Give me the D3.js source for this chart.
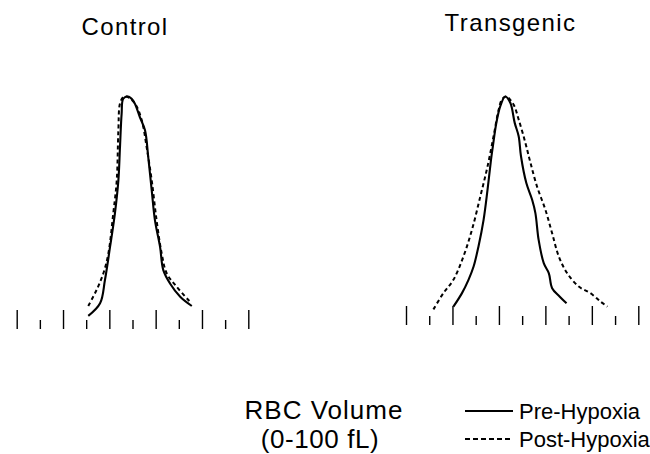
<!DOCTYPE html>
<html>
<head>
<meta charset="utf-8">
<script src="https://cdn.jsdelivr.net/npm/d3@7"></script>
<style>
  body { margin: 0; background: #fff; }
  svg { display: block; }
  text { font-family: "Liberation Sans", Arial, Helvetica, sans-serif; fill: #000; }
</style>
</head>
<body>
<svg id="chart" width="650" height="454"></svg>
<script>
// RBC volume (fL) vs relative cell count (peak = 100)
var controlPre = [
  [30.9, 2.7], [36.0, 8.3], [38.1, 18.6], [40.3, 33.3], [42.4, 48.1], [43.9, 62.8],
  [44.6, 77.6], [45.3, 92.3], [46.0, 99.0], [47.9, 100], [50.3, 98.2], [53.2, 90.8],
  [55.4, 85.0], [56.8, 73.1], [58.3, 58.4], [59.7, 45.1], [61.9, 33.3], [63.3, 23.0],
  [66.2, 17.1], [70.6, 11.2], [75.6, 7.1]
]
var controlPost = [
  [30.9, 7.1], [34.5, 14.2], [37.4, 21.5], [39.6, 30.5], [41.7, 48.2], [43.2, 62.8],
  [43.9, 85.0], [44.6, 96.9], [46.0, 99.7], [47.5, 100], [51.1, 96.8], [54.0, 89.4],
  [56.1, 77.6], [58.3, 62.8], [60.4, 45.1], [62.6, 30.4], [64.8, 21.5], [69.1, 15.6],
  [74.8, 9.0]
]
var transPre = [
  [20.4, 6.8], [24.1, 12.8], [26.9, 18.7], [29.1, 24.6], [31.2, 33.5], [33.4, 45.3],
  [35.1, 58.7], [36.6, 72.0], [37.4, 77.9], [38.9, 88.3], [40.6, 95.7], [42.7, 100],
  [44.9, 97.2], [46.8, 88.3], [48.5, 82.4], [49.5, 73.5], [51.8, 61.6], [54.3, 54.2],
  [55.7, 48.3], [57.1, 36.4], [59.3, 26.1], [61.5, 21.6], [62.9, 15.0], [66.2, 11.2],
  [69.1, 8.3]
]
var transPost = [
  [11.8, 5.6], [16.1, 12.8], [20.4, 18.7], [24.7, 29.0], [28.4, 40.9], [32.0, 55.7],
  [35.1, 69.0], [37.7, 82.4], [39.9, 94.2], [41.3, 98.7], [43.2, 100], [46.3, 96.4],
  [48.5, 89.8], [51.4, 79.4], [53.6, 70.5], [56.4, 60.1], [60.0, 49.8], [62.9, 39.4],
  [65.8, 29.0], [69.4, 21.6], [74.4, 15.7], [79.4, 12.8], [83.8, 9.0], [86.7, 6.8]
]
var majorTicks = [0, 20, 40, 60, 80, 100]
var minorTicks = [10, 30, 50, 70, 90]
var panelTitles = ["Control", "Transgenic"]
var legendLabels = ["Pre-Hypoxia", "Post-Hypoxia"]
var axisTitle = ["RBC Volume", "(0-100 fL)"]

var svg = d3.select("#chart")

var yScale = d3.scaleLinear()
    .domain([0, 100])
    .range([322, 96.5])

var panels = [
  {title: panelTitles[0], pre: controlPre, post: controlPost, range: [16.7, 248.3], tickY: 329, titleX: 125, titleY: 35},
  {title: panelTitles[1], pre: transPre, post: transPost, range: [406, 638.3], tickY: 325, titleX: 510.5, titleY: 31}
]

var drawPanel = function(p)
{
    var xScale = d3.scaleLinear()
        .domain([0, 100])
        .range(p.range)

    var g = svg.append("g")

    // long and short ticks, no axis line
    g.append("g")
        .attr("transform", "translate(0," + p.tickY + ")")
        .call(d3.axisTop(xScale).tickValues(majorTicks).tickSize(19).tickFormat(""))
    g.append("g")
        .attr("transform", "translate(0," + p.tickY + ")")
        .call(d3.axisTop(xScale).tickValues(minorTicks).tickSize(9).tickFormat(""))
    g.selectAll(".domain").remove()
    g.selectAll(".tick line").attr("stroke", "#000").attr("stroke-width", 1.4)

    var line = d3.line()
        .x(function(d) { return xScale(d[0]) })
        .y(function(d) { return yScale(d[1]) })
        .curve(d3.curveCatmullRom)

    g.append("path")
        .datum(p.post)
        .attr("d", line)
        .attr("fill", "none")
        .attr("stroke", "#000")
        .attr("stroke-width", 2)
        .attr("stroke-dasharray", "4,3")

    g.append("path")
        .datum(p.pre)
        .attr("d", line)
        .attr("fill", "none")
        .attr("stroke", "#000")
        .attr("stroke-width", 2.1)

    g.append("text")
        .text(p.title)
        .attr("x", p.titleX)
        .attr("y", p.titleY)
        .attr("text-anchor", "middle")
        .attr("font-size", 24)
        .attr("letter-spacing", 1.4)
}

panels.forEach(drawPanel)

// x axis title
svg.append("text")
    .text(axisTitle[0])
    .attr("x", 324)
    .attr("y", 419)
    .attr("text-anchor", "middle")
    .attr("font-size", 26)
    .attr("letter-spacing", 1)
svg.append("text")
    .text(axisTitle[1])
    .attr("x", 320)
    .attr("y", 448)
    .attr("text-anchor", "middle")
    .attr("font-size", 26)
    .attr("letter-spacing", 0.6)

// legend
var legend = svg.append("g")
legendLabels.forEach(function(label, i)
{
    var y = 411 + i * 28
    legend.append("line")
        .attr("x1", 465).attr("x2", 513)
        .attr("y1", y).attr("y2", y)
        .attr("stroke", "#000")
        .attr("stroke-width", 1.8)
        .attr("stroke-dasharray", i == 0 ? null : "5,3")
    legend.append("text")
        .text(label)
        .attr("x", 519)
        .attr("y", y + 8)
        .attr("font-size", 22)
})
</script>
</body>
</html>
